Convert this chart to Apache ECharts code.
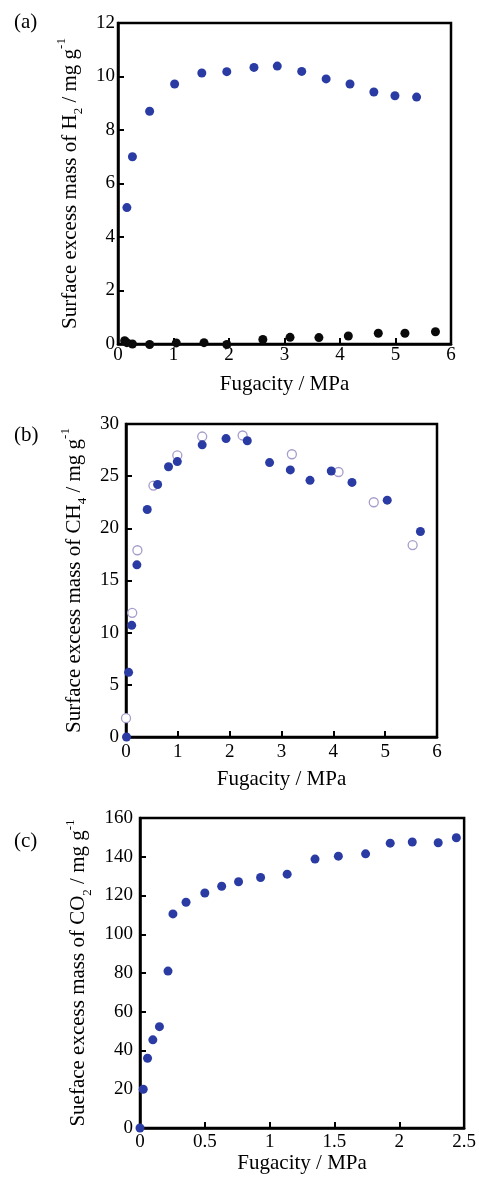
<!DOCTYPE html>
<html>
<head>
<meta charset="utf-8">
<script src="https://cdn.jsdelivr.net/npm/echarts@6/dist/echarts.min.js"></script>
<style>
html, body { margin: 0; background: #fff; }
#main { width: 479px; height: 1179px; }
</style>
</head>
<body>
<div id="main"></div>
<script>
// (a) H2, fugacity (MPa) vs surface excess mass
let h2Blue = [[0.16, 5.1], [0.26, 7.0], [0.57, 8.7], [1.02, 9.72], [1.51, 10.13], [1.96, 10.18],
    [2.45, 10.34], [2.87, 10.39], [3.31, 10.19], [3.75, 9.91], [4.18, 9.72], [4.61, 9.42],
    [4.99, 9.28], [5.38, 9.23]];
let h2Black = [[0.12, 0.12], [0.16, 0.05], [0.26, 0.0], [0.57, -0.02], [1.05, 0.04], [1.55, 0.05],
    [1.96, -0.02], [2.61, 0.17], [3.1, 0.25], [3.62, 0.24], [4.15, 0.3], [4.69, 0.4],
    [5.17, 0.4], [5.72, 0.46]];

// (b) CH4
let ch4Filled = [[0.01, 0], [0.05, 6.2], [0.11, 10.7], [0.21, 16.5], [0.41, 21.8], [0.61, 24.2],
    [0.82, 25.9], [0.99, 26.4], [1.47, 28.0], [1.93, 28.6], [2.34, 28.4], [2.77, 26.3],
    [3.17, 25.6], [3.55, 24.6], [3.96, 25.5], [4.36, 24.4], [5.04, 22.7], [5.68, 19.7]];
let ch4Open = [[0.0, 1.8], [0.12, 11.9], [0.22, 17.9], [0.53, 24.1], [0.99, 27.0], [1.47, 28.8],
    [2.25, 28.9], [3.2, 27.1], [4.1, 25.4], [4.78, 22.5], [5.53, 18.4]];

// (c) CO2
let co2 = [[0, 0], [0.025, 20], [0.058, 36], [0.099, 45.5], [0.15, 52.3], [0.216, 81],
    [0.254, 110.5], [0.355, 116.5], [0.5, 121.3], [0.63, 124.8], [0.76, 127.1], [0.93, 129.3],
    [1.135, 131], [1.35, 138.8], [1.53, 140.3], [1.74, 141.5], [1.93, 147], [2.1, 147.6],
    [2.3, 147.2], [2.44, 149.8]];

// tick labels
let xTicksAB = [0, 1, 2, 3, 4, 5, 6];
let yTicksA = [0, 2, 4, 6, 8, 10, 12];
let yTicksB = [0, 5, 10, 15, 20, 25, 30];
let xTicksC = [0, 0.5, 1, 1.5, 2, 2.5];
let yTicksC = [0, 20, 40, 60, 80, 100, 120, 140, 160];

const FONT = "Liberation Serif";
const BLUE = "#2a3ca4";
const INK = "#000";

let dom = document.getElementById("main");
let myChart = echarts.init(dom, null, { renderer: "canvas" });

function yName(first, sub) {
    return "{m|" + first + "}{s|" + sub + "}{m| / mg g}{p|-1}";
}

let nameRich = {
    m: { fontFamily: FONT, fontSize: 21, lineHeight: 30, color: INK },
    s: { fontFamily: FONT, fontSize: 13, lineHeight: 13, verticalAlign: "bottom", color: INK },
    p: { fontFamily: FONT, fontSize: 13, lineHeight: 13, verticalAlign: "top", color: INK },
};

function valueAxis(idx, ticks, opts) {
    return Object.assign({
        type: "value",
        gridIndex: idx,
        min: ticks[0],
        max: ticks[ticks.length - 1],
        interval: ticks[1] - ticks[0],
        splitLine: { show: false },
        axisLine: { show: true, onZero: false, lineStyle: { color: INK, width: 2.5 } },
        axisTick: { show: true, inside: true, length: 6, lineStyle: { color: INK, width: 2 } },
        axisLabel: { color: INK, fontFamily: FONT, fontSize: 19 },
        nameLocation: "middle",
    }, opts);
}

function xName(gap) {
    return {
        name: "Fugacity / MPa",
        nameGap: gap,
        nameTextStyle: { color: INK, fontFamily: FONT, fontSize: 21 },
    };
}

function yAxisOpts(text, sub, gap, margin) {
    return {
        name: yName(text, sub),
        nameRotate: 90,
        nameGap: gap,
        nameTextStyle: { rich: nameRich },
        axisLabel: { color: INK, fontFamily: FONT, fontSize: 19, margin: margin },
    };
}

function gridBox(left, top, width, height) {
    return { left: left, top: top, width: width, height: height, show: true, borderColor: INK, borderWidth: 2.5 };
}

function scatter(idx, data, style, z) {
    return {
        type: "scatter",
        xAxisIndex: idx,
        yAxisIndex: idx,
        data: data,
        symbolSize: 9,
        clip: false,
        z: z,
        itemStyle: Object.assign({ opacity: 1 }, style),
    };
}

let option = {
    backgroundColor: "#fff",
    animation: false,
    grid: [
        gridBox(118, 23, 333, 321),
        gridBox(126, 424, 311, 313),
        gridBox(140, 818, 327, 310),
    ],
    xAxis: [
        valueAxis(0, xTicksAB, Object.assign(xName(30), {
            axisLabel: { color: INK, fontFamily: FONT, fontSize: 19, margin: 2 } })),
        valueAxis(1, xTicksAB, Object.assign(xName(32), {
            axisLabel: { color: INK, fontFamily: FONT, fontSize: 19, margin: 6 } })),
        valueAxis(2, xTicksC, Object.assign(xName(24), {
            axisLabel: { color: INK, fontFamily: FONT, fontSize: 19, margin: 5 } })),
    ],
    yAxis: [
        valueAxis(0, yTicksA, yAxisOpts("Surface excess mass of H", "2", 18, 3)),
        valueAxis(1, yTicksB, yAxisOpts("Surface excess mass of CH", "4", 26, 7)),
        valueAxis(2, yTicksC, yAxisOpts("Sueface excess mass of CO", "2", 40, 7)),
    ],
    graphic: [
        { type: "text", left: 14, top: 12, style: { text: "(a)", font: "21px " + FONT, fill: INK } },
        { type: "text", left: 14, top: 425, style: { text: "(b)", font: "21px " + FONT, fill: INK } },
        { type: "text", left: 14, top: 831, style: { text: "(c)", font: "21px " + FONT, fill: INK } },
    ],
    series: [
        scatter(0, h2Blue, { color: BLUE }, 3),
        scatter(0, h2Black, { color: "#0a0a0a" }, 3),
        scatter(1, ch4Open, { color: "#fff", borderColor: "#a79ccb", borderWidth: 1.3 }, 2),
        scatter(1, ch4Filled, { color: BLUE }, 3),
        scatter(2, co2, { color: BLUE }, 3),
    ],
};

if (option && typeof option === "object") {
    myChart.setOption(option);
}

window.addEventListener("resize", myChart.resize);
</script>
</body>
</html>
